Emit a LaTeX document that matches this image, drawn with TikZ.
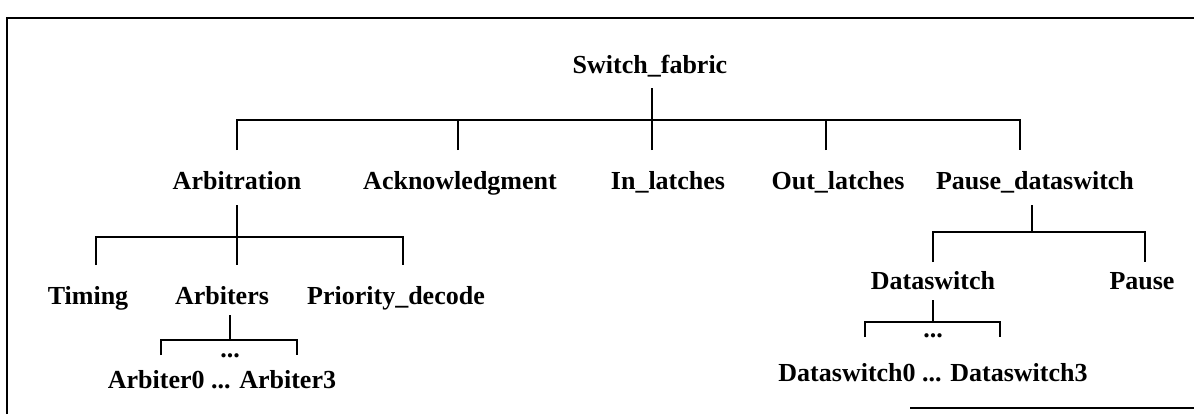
\documentclass[tikz,border=0pt]{standalone}
\usepackage{fontspec}
\setmainfont{Liberation Serif}
\usepackage{tikz}
\usetikzlibrary{calc}

\begin{document}
\begin{tikzpicture}[
x=0.5pt, y=-0.5pt,
every node/.style={font=\bfseries\fontsize{13}{15}\selectfont},
tag/.style={
inner sep=0pt,
text height=9pt,
text depth=3pt
},
dots/.style={inner sep=0pt},
link/.style={line width=0.8pt},
frame/.style={line width=1.2pt}
]
\useasboundingbox (0,0) rectangle (1194,414);

% Frame (left and top edges, piece of the bottom edge)
\draw[frame] (7,414) -- (7,18) -- (1194,18);
\draw[frame] (910,408) -- (1194,408);

% Bar heights
\coordinate (b0) at (0,120);

% Root
\node[tag] (sf) at (650,67) {Switch\_fabric};

% First level
\node[tag] (arb) at (237,183) {Arbitration};
\node[tag] (ack) at (460,183) {Acknowledgment};
\node[tag] (inl) at (668,183) {In\_latches};
\node[tag] (outl) at (838,183) {Out\_latches};
\node[tag] (psw) at (1035,183) {Pause\_dataswitch};

% Second level
\node[tag] (tim) at (88,298) {Timing};
\node[tag] (arbs) at (222,298) {Arbiters};
\node[tag] (prio) at (396,298) {Priority\_decode};
\node[tag] (dsw) at (933,283) {Dataswitch};
\node[tag] (pau) at (1142,283) {Pause};

% Instances
\node[dots] (arbdots) at (230,356) {...};
\node[tag] (arbn) at (222,382) {Arbiter0 ... Arbiter3};
\node[dots] (dswdots) at (933,336) {...};
\node[tag] (dswn) at (933,375) {Dataswitch0 ... Dataswitch3};

% Switch_fabric -> first level
\draw[link] ($(sf)+(2,21)$) -- ($(sf |- b0)+(2,0)$);
\draw[link] ($(arb)+(0,-33)$) |- ($(psw |- b0)+(-15,0)$) -- ($(psw)+(-15,-33)$);
\foreach \n/\dx in {ack/-2,inl/-16,outl/-12}
  \draw[link] ($(\n)+(\dx,-33)$) -- ($(\n |- b0)+(\dx,0)$);

% Arbitration -> Timing, Arbiters, Priority_decode
\draw[link] ($(arb)+(0,22)$) -- ($(arbs)+(15,-33)$);
\draw[link] ($(tim)+(8,-33)$) |- ($(prio)+(7,-61)$) -- ($(prio)+(7,-33)$);

% Arbiters -> Arbiter0 ... Arbiter3
\draw[link] ($(arbs)+(8,17)$) -- ($(arbs)+(8,42)$);
\draw[link] ($(arbn)+(-61,-27)$) -- ++(0,-15) -- ++(136,0) -- ++(0,15);

% Pause_dataswitch -> Dataswitch, Pause
\draw[link] ($(psw)+(-3,22)$) -- ($(psw)+(-3,49)$);
\draw[link] ($(dsw)+(0,-21)$) |- ($(pau)+(3,-51)$) -- ($(pau)+(3,-21)$);

% Dataswitch -> Dataswitch0 ... Dataswitch3
\draw[link] ($(dsw)+(0,17)$) -- ($(dsw)+(0,39)$);
\draw[link] ($(dswn)+(-68,-38)$) -- ++(0,-15) -- ++(135,0) -- ++(0,15);

\end{tikzpicture}
\end{document}
